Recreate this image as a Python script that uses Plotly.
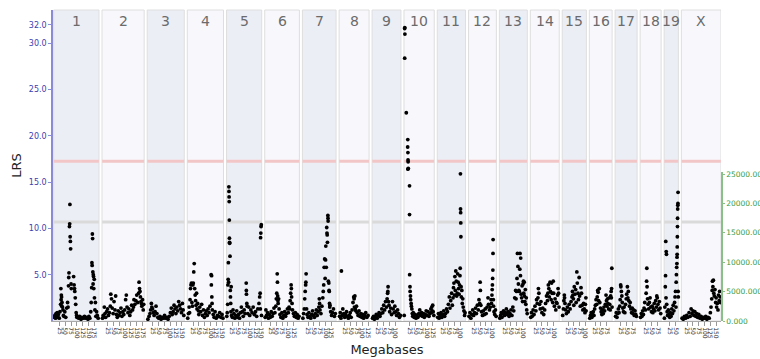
import plotly.graph_objects as go

# ---------------- data ----------------
CHROMS = ["1", "2", "3", "4", "5", "6", "7", "8", "9", "10",
          "11", "12", "13", "14", "15", "16", "17", "18", "19", "X"]
CHROM_LEN_MB = [195.5, 182.1, 160.0, 156.5, 151.8, 149.7, 145.4, 129.4, 124.6, 130.7,
                122.1, 120.1, 120.4, 124.9, 104.0, 98.2, 95.0, 90.7, 61.4, 171.0]

CHR1 = [(3,0.4),(5,0.6),(8,0.3),(10,0.8),(12,0.5),(15,0.9),(18,0.4),(20,0.7),(24,0.3),(27,1.0),
        (30,1.8),(31,3.5),(32,2.3),(33,2.8),(34,2.6),(35,1.6),(36,2.0),(38,1.5),(40,1.2),(42,0.6),(44,0.5),
        (48,1.0),(52,0.4),(56,1.4),(60,2.0),(62,1.5),(64,3.8),(65,4.7),(66,5.2),(68,10.2),(69,10.5),
        (70,12.6),(71,9.1),(72,8.6),(73,7.8),(75,4.0),(76,3.5),(86,4.8),(88,3.9),(90,3.5),(91,3.2),
        (93,2.5),(95,1.8),(97,0.9),(99,0.6),(100,0.4),(108,0.3),(112,0.5),(118,0.2),(122,0.4),
        (128,0.3),(133,0.5),(138,0.3),(143,0.4),(148,0.2),(152,0.5),(156,0.3),(160,1.0),(162,2.0),
        (164,3.6),(165,6.3),(166,6.0),(167,9.4),(168,8.9),(169,5.3),(170,4.0),(171,5.0),(172,4.8),
        (173,3.5),(175,4.5),(176,2.5),(178,1.2),(180,2.0),(182,0.5),(185,1.0),(188,0.6),(192,0.3)]
CHR2 = [(2,0.3),(5,0.6),(8,0.4),(10,1.5),(13,0.8),(16,0.4),(20,1.0),(24,1.3),(28,0.6),(32,0.9),
        (36,1.6),(38,2.9),(41,2.4),(44,1.4),(48,0.8),(52,2.1),(56,1.2),(59,2.7),(62,0.7),(66,0.4),
        (70,1.1),(74,0.6),(78,0.9),(82,1.4),(86,0.5),(90,1.0),(94,0.7),(98,1.2),(102,2.3),(105,2.8),
        (108,1.5),(112,0.9),(116,1.3),(120,0.6),(124,1.0),(128,1.7),(132,1.2),(136,1.5),(138,2.3),
        (142,1.8),(146,2.2),(150,2.8),(154,2.0),(158,3.0),(160,4.2),(162,3.5),(164,3.2),(166,2.6),
        (168,2.1),(170,1.9),(172,1.6),(175,2.3),(178,1.2),(180,1.8)]
CHR3 = [(3,0.2),(8,0.5),(12,0.8),(15,1.2),(18,1.9),(20,1.5),(23,1.3),(26,0.9),(30,0.6),(34,1.0),
        (38,1.6),(42,0.8),(46,0.4),(50,0.3),(55,0.5),(60,0.2),(65,0.4),(70,0.3),(75,0.6),(80,0.3),
        (85,0.4),(90,0.2),(95,0.5),(100,0.9),(104,1.4),(108,0.7),(112,1.0),(116,1.7),(120,1.3),
        (124,0.8),(128,1.5),(132,1.1),(136,2.1),(140,1.7),(144,1.3),(148,0.9),(152,1.9),(155,1.2),(158,0.6)]
CHR4 = [(2,0.3),(5,0.8),(8,1.5),(10,0.9),(12,2.3),(14,3.5),(16,3.9),(18,4.1),(20,2.0),(22,1.6),
        (24,3.9),(26,4.1),(28,5.3),(30,6.2),(32,3.5),(34,2.8),(36,2.2),(38,1.7),(40,3.0),(42,1.3),
        (45,1.9),(48,1.1),(50,0.7),(54,1.5),(58,1.0),(62,1.8),(66,0.6),(70,1.2),(74,0.4),(78,0.8),
        (82,1.1),(86,0.6),(90,1.3),(94,0.9),(98,1.6),(103,5.0),(104,3.9),(105,4.9),(106,2.6),(107,1.9),
        (108,1.2),(112,0.7),(116,0.4),(120,1.0),(125,0.3),(130,0.6),(135,0.5),(140,0.9),(145,0.4),
        (150,0.7),(154,0.3)]
CHR5 = [(1,0.5),(3,0.9),(5,1.8),(6,3.9),(7,4.5),(8,6.3),(9,4.2),(10,14.5),(10.5,14.0),(11,13.4),
        (11.5,12.9),(12,10.9),(12.5,8.95),(13,8.5),(13.5,8.4),(15,7.0),(16,3.3),(17,2.6),(18,1.9),
        (19,1.0),(20,3.7),(22,0.6),(25,0.4),(28,1.2),(32,0.8),(36,0.3),(40,0.6),(44,1.1),(48,0.4),
        (52,0.7),(56,0.3),(60,0.9),(64,1.5),(68,1.0),(72,0.5),(76,1.2),(80,0.8),(85,4.1),(85.5,3.3),
        (86,2.9),(87.5,1.9),(89,1.6),(92,0.8),(96,1.5),(100,0.6),(105,1.2),(110,0.9),(115,1.5),
        (120,0.7),(125,1.0),(130,0.5),(135,1.3),(140,1.9),(143,2.6),(145,3.0),(146,1.3),(147,9.0),
        (148,9.5),(149,10.2),(150,10.4),(151,0.6)]
CHR6 = [(2,0.4),(5,1.2),(8,0.6),(12,0.9),(16,0.3),(20,0.7),(24,0.4),(28,1.0),(32,0.5),(36,0.8),
        (40,1.4),(44,0.9),(48,1.6),(50,2.4),(52,3.0),(54,5.1),(55,4.2),(56,2.7),(57,2.2),(58,1.9),
        (60,2.4),(62,1.3),(66,0.7),(70,0.4),(74,0.9),(78,0.3),(82,0.6),(86,1.0),(90,0.5),(94,0.8),
        (98,1.3),(102,0.9),(105,1.5),(108,1.3),(110,2.2),(112,3.0),(114,3.9),(115,3.5),(116,2.6),
        (118,1.9),(120,1.2),(124,0.8),(128,0.5),(132,0.9),(136,0.4),(140,0.7),(144,0.3),(148,0.5)]
CHR7 = [(2,0.3),(5,0.8),(8,1.3),(10,2.4),(12,3.2),(14,3.9),(15,4.2),(16,5.1),(18,1.3),(20,0.7),
        (24,0.4),(28,0.9),(32,0.5),(36,0.3),(40,0.7),(44,1.1),(48,0.6),(52,0.4),(56,0.8),(60,1.2),
        (64,0.6),(68,1.0),(71,1.5),(73,2.4),(74,1.9),(76,1.2),(80,0.8),(84,1.6),(88,2.5),(90,3.2),
        (92,3.9),(94,5.8),(96,6.7),(98,4.6),(100,6.6),(101,8.1),(103,5.8),(105,10.1),(106,9.5),
        (107,9.3),(108,8.5),(110,11.4),(110.5,11.1),(111,10.8),(112,4.3),(114,4.1),(115,3.3),
        (116,3.2),(117,1.9),(118,1.5),(119,1.7),(122,1.0),(126,0.6),(130,0.9),(134,1.3),(138,0.5),(142,0.8)]
CHR8 = [(2,0.5),(5,0.9),(8,0.3),(10,5.4),(13,0.6),(16,1.3),(20,0.8),(24,0.4),(28,0.7),(32,1.0),
        (36,0.5),(40,0.3),(44,0.6),(48,0.9),(52,0.4),(56,1.2),(60,2.0),(63,2.6),(65,2.4),(66,1.5),
        (68,2.7),(70,1.3),(72,1.1),(75,1.6),(78,0.9),(82,0.6),(86,1.1),(90,0.5),(94,0.8),(98,0.4),
        (102,0.7),(106,0.3),(110,0.6),(115,0.9),(120,0.4),(125,0.6)]
CHR9 = [(2,0.3),(6,0.5),(10,0.2),(14,0.4),(18,0.7),(22,0.3),(26,0.6),(30,0.9),(34,0.5),(38,0.8),
        (42,1.3),(46,0.9),(50,1.7),(54,1.2),(58,2.1),(62,1.5),(65,2.4),(67,3.0),(68,3.2),(69,3.7),
        (71,2.1),(73,1.7),(76,1.0),(80,1.4),(84,0.7),(88,2.1),(91,1.3),(95,0.9),(98,1.6),(102,1.0),
        (106,0.6),(110,1.2),(114,0.8),(118,0.4),(122,0.6)]
CHR10 = [(1,0.6),(3,31.6),(3.5,31.7),(4,31.0),(3.2,28.4),(10,22.5),(16.5,19.6),(16,18.8),(17,18.2),
         (17.5,17.4),(18,17.2),(17,16.4),(18.5,16.5),(24,14.6),(24,11.5),(24.5,5.0),(26,3.7),(26.5,3.2),
         (28,2.7),(29,2.3),(31,1.9),(32,1.6),(34,1.3),(36,0.8),(38,0.5),(40,0.9),(44,0.4),(48,0.7),
         (52,0.3),(56,0.6),(60,0.4),(64,0.8),(68,1.2),(72,0.6),(76,0.9),(80,0.5),(84,0.8),(88,0.4),
         (92,0.7),(96,1.1),(100,0.6),(104,1.0),(108,0.5),(112,0.8),(116,1.3),(118,0.9),(120,1.5),
         (122,1.1),(124,1.7),(126,1.0),(129,0.6)]
CHR11 = [(2,0.4),(5,0.8),(8,0.3),(12,0.6),(16,0.9),(20,0.4),(24,0.7),(28,1.1),(32,0.5),(36,0.8),
         (40,1.3),(44,1.0),(48,1.8),(52,2.6),(55,1.4),(58,2.2),(62,3.0),(65,1.7),(68,2.5),(70,3.6),
         (72,4.1),(74,2.8),(76,4.8),(78,3.3),(80,5.4),(82,4.3),(84,2.7),(86,3.0),(88,5.1),(90,4.2),
         (92,3.5),(94,2.9),(96,3.9),(98,4.9),(99,5.7),(100,15.9),(100.5,12.1),(101,11.7),(101.5,10.6),
         (102,9.1),(103,3.7),(104,2.6),(106,3.3),(108,1.9),(110,2.4),(112,1.5),(115,1.1),(118,0.6),(120,0.9)]
CHR12 = [(2,0.5),(6,0.9),(10,0.3),(14,0.7),(18,1.2),(22,0.6),(26,0.9),(30,1.4),(34,0.8),(38,1.7),
         (42,1.2),(45,2.3),(48,1.9),(50,4.2),(51,3.3),(53,1.7),(56,1.0),(60,0.6),(64,1.1),(68,0.7),
         (72,1.3),(76,0.8),(80,1.5),(84,2.5),(86,1.8),(90,1.2),(94,1.5),(97,2.3),(99,1.9),(101,2.8),
         (102,3.4),(103,3.9),(104,4.6),(105,5.5),(105.5,7.3),(106,8.8),(107,2.3),(108,1.6),(110,1.0),
         (113,0.7),(116,1.2),(119,0.5)]
CHR13 = [(2,0.3),(5,0.6),(8,0.9),(11,0.4),(14,0.8),(18,1.1),(22,0.6),(26,0.9),(30,1.3),(34,0.7),
         (38,1.0),(42,0.5),(46,0.8),(50,1.2),(54,0.6),(58,1.5),(62,1.1),(66,2.5),(70,3.3),(72,2.4),
         (74,3.2),(76,4.6),(78,7.3),(80,5.9),(82,4.0),(84,3.3),(86,3.2),(88,5.6),(89,7.3),(91,4.9),
         (92,6.8),(94,2.9),(96,2.5),(98,3.8),(100,2.1),(102,4.0),(104,4.3),(105,3.0),(107,4.2),
         (108,2.7),(110,2.1),(112,3.4),(114,1.8),(116,2.5),(118,1.2),(120,0.8)]
CHR14 = [(2,0.4),(5,0.9),(8,0.5),(12,1.2),(16,0.7),(20,1.6),(24,1.1),(27,2.3),(30,1.9),(33,2.5),
         (35,3.5),(37,3.0),(40,1.8),(43,1.3),(46,2.1),(50,0.9),(54,1.4),(58,0.7),(62,1.2),(66,1.9),
         (70,2.7),(74,2.2),(76,3.0),(78,3.9),(80,3.5),(82,2.6),(85,4.2),(87,3.2),(90,2.3),(92,4.1),
         (94,3.0),(97,2.0),(99,4.3),(101,3.0),(104,1.6),(107,2.4),(110,1.2),(113,2.0),(115,1.9),
         (118,2.8),(120,3.5),(122,3.0),(124,1.5)]
CHR15 = [(2,0.6),(5,1.3),(7,2.2),(9,2.8),(10,2.5),(12,1.9),(15,1.2),(18,0.8),(22,1.5),(26,1.0),
         (30,1.8),(34,1.3),(38,2.1),(42,2.6),(44,3.2),(46,2.8),(48,2.4),(50,1.7),(52,3.7),(55,2.9),
         (58,3.4),(60,2.0),(63,5.3),(65,4.1),(68,3.0),(70,2.3),(73,4.7),(75,2.7),(78,1.6),(81,3.6),
         (83,3.0),(86,1.7),(89,1.2),(92,1.9),(95,1.3),(98,0.9),(100,1.8),(102,2.5),(103,1.1)]
CHR16 = [(2,0.3),(5,0.6),(8,0.9),(11,0.4),(14,0.7),(17,1.0),(20,0.6),(23,1.3),(26,1.7),(29,2.3),
         (32,1.8),(34,2.6),(36,3.3),(38,3.1),(40,2.2),(43,3.5),(45,2.0),(48,1.4),(51,1.0),(54,0.7),
         (57,1.2),(60,0.8),(63,1.5),(66,1.1),(69,1.8),(72,2.8),(74,2.2),(76,1.6),(78,2.4),(80,1.9),
         (83,1.3),(86,2.5),(88,1.8),(90,1.2),(92,2.7),(94,3.2),(95,2.5),(96,3.5),(97,5.7),(98,1.5)]
CHR17 = [(2,0.5),(5,0.9),(8,0.4),(11,0.8),(14,1.3),(17,0.9),(20,1.6),(22,2.3),(24,3.9),(25,3.7),
         (27,3.2),(29,2.7),(31,2.0),(33,1.4),(36,1.0),(39,1.5),(42,0.9),(45,1.8),(48,2.4),(50,2.9),
         (53,3.7),(55,2.5),(57,3.2),(59,2.2),(62,1.6),(65,2.0),(68,1.3),(71,0.9),(74,1.4),(77,0.8),
         (80,1.2),(83,0.6),(86,1.1),(89,0.7),(92,0.5)]
CHR18 = [(2,0.4),(5,0.8),(8,0.5),(11,1.1),(14,0.7),(17,1.4),(20,2.0),(23,1.2),(26,3.0),(28,4.3),
         (29,5.7),(30,3.7),(32,2.4),(34,1.8),(37,1.3),(40,2.0),(43,2.5),(46,1.5),(49,1.0),(52,1.6),
         (55,0.9),(58,1.3),(61,1.9),(64,1.1),(67,2.2),(70,1.5),(72,2.7),(74,2.5),(77,1.8),(80,1.2),
         (83,2.1),(86,1.4),(89,0.8)]
CHR19 = [(1,0.3),(3,1.5),(5,3.7),(6,4.9),(7,8.6),(8,2.5),(9,7.5),(10,7.2),(11,1.8),(13,1.0),
         (15,0.6),(18,1.2),(21,0.7),(24,0.4),(27,0.9),(30,0.5),(33,1.3),(36,0.8),(39,1.7),(42,1.1),
         (45,2.0),(47,2.6),(49,3.2),(51,1.5),(52,4.2),(53,5.0),(54,5.8),(55,6.2),(55.5,6.9),(56,7.2),
         (56.5,8.0),(57,9.1),(57.5,10.2),(58,11.1),(58.5,12.1),(59,12.5),(59.5,12.7),(60,13.9),
         (60.5,3.2),(61,2.6)]
CHRX = [(3,0.3),(8,0.2),(13,0.5),(18,0.3),(23,0.6),(28,0.4),(33,0.9),(38,0.5),(42,1.3),(46,0.8),
        (50,1.1),(54,0.6),(58,1.0),(62,0.5),(66,0.8),(70,0.4),(75,0.7),(80,0.3),(85,0.5),(90,0.2),
        (95,0.4),(100,0.3),(105,0.5),(110,0.2),(115,0.4),(120,0.3),(125,0.9),(128,1.5),(131,2.4),
        (133,3.3),(134,4.3),(136,3.7),(138,4.4),(140,3.0),(142,2.7),(145,3.4),(148,2.0),(150,2.5),
        (152,1.5),(155,1.9),(158,1.2),(160,2.8),(163,2.2),(165,3.2),(167,2.6),(169,2.0)]

CHROM_POINTS = [CHR1, CHR2, CHR3, CHR4, CHR5, CHR6, CHR7, CHR8, CHR9, CHR10,
                CHR11, CHR12, CHR13, CHR14, CHR15, CHR16, CHR17, CHR18, CHR19, CHRX]

SIGNIFICANT_LRS = 17.26
SUGGESTIVE_LRS = 10.69
Y_TICKS = [5, 10, 15, 20, 25, 30, 32]
Y2_TICKS = [0, 5000, 10000, 15000, 20000, 25000]
X_TICK_STEP_MB = 25

# ---------------- layout helpers ----------------
GAP_MB = 13.0
offsets = []
acc = 0.0
for L in CHROM_LEN_MB:
    offsets.append(acc)
    acc += L + GAP_MB
total = acc - GAP_MB

xs, ys = [], []
for off, pts in zip(offsets, CHROM_POINTS):
    for mb, lrs in pts:
        xs.append(off + mb)
        ys.append(lrs)

tickvals, ticktext = [], []
for off, L in zip(offsets, CHROM_LEN_MB):
    m = X_TICK_STEP_MB
    while m < L:
        tickvals.append(off + m)
        ticktext.append(str(m))
        m += X_TICK_STEP_MB

fig = go.Figure()
fig.add_trace(go.Scatter(x=[0], y=[0], yaxis="y2", mode="markers",
                         marker=dict(opacity=0), hoverinfo="skip", showlegend=False))
fig.add_trace(go.Scatter(x=xs, y=ys, mode="markers",
                         marker=dict(color="black", size=3.8, line=dict(width=0)),
                         hoverinfo="skip", showlegend=False))

shapes = []
annotations = []
for i, (name, off, L) in enumerate(zip(CHROMS, offsets, CHROM_LEN_MB)):
    fill = "#eceef6" if i % 2 == 0 else "#f8f8fc"
    shapes.append(dict(type="rect", xref="x", yref="paper", x0=off, x1=off + L, y0=0, y1=1,
                       fillcolor=fill, line=dict(color="#dedede", width=1), layer="below"))
    shapes.append(dict(type="line", xref="x", yref="y", x0=off + 0.5, x1=off + L - 0.5,
                       y0=SIGNIFICANT_LRS, y1=SIGNIFICANT_LRS,
                       line=dict(color="#f2c6c6", width=3), layer="below"))
    shapes.append(dict(type="line", xref="x", yref="y", x0=off + 0.5, x1=off + L - 0.5,
                       y0=SUGGESTIVE_LRS, y1=SUGGESTIVE_LRS,
                       line=dict(color="#dadada", width=3), layer="below"))
    annotations.append(dict(x=off + L / 2, y=0.966, xref="x", yref="paper", text=name,
                            showarrow=False, xanchor="center", yanchor="middle",
                            font=dict(size=14, color="#6b6b6b", family="DejaVu Sans")))

fig.update_layout(
    width=760, height=359,
    margin=dict(l=53, r=39, t=10, b=38, autoexpand=False),
    paper_bgcolor="white", plot_bgcolor="rgba(0,0,0,0)",
    font=dict(family="DejaVu Sans", color="#222"),
    shapes=shapes, annotations=annotations,
    xaxis=dict(range=[-3, total], tickvals=tickvals, ticktext=ticktext, tickangle=90,
               tickfont=dict(size=6, color="#222"), ticks="outside", ticklen=4,
               tickcolor="#999", showline=True, linecolor="#aaaaaa", linewidth=1,
               showgrid=False, zeroline=False, automargin=False,
               title=dict(text="Megabases", font=dict(size=13, color="#222"), standoff=7)),
    yaxis=dict(range=[0, 33.6], tickvals=Y_TICKS, ticktext=[f"{v:.1f}" for v in Y_TICKS],
               tickfont=dict(size=8, color="#4040b0"), ticks="outside", ticklen=3,
               tickcolor="#8a8ad6", showline=True, linecolor="#8a8ad6", linewidth=1.5,
               showgrid=False, zeroline=False, automargin=False,
               title=dict(text="LRS", font=dict(size=13, color="#222"), standoff=4)),
    yaxis2=dict(domain=[0, 0.48], anchor="x", side="right", range=[0, 25400],
                tickvals=Y2_TICKS, tickformat=".3f",
                tickfont=dict(size=7.5, color="#3a9a3a"), ticks="outside", ticklen=2,
                tickcolor="#88c088", showline=True, linecolor="#88c088", linewidth=1.5,
                showgrid=False, zeroline=False, automargin=False),
)

fig.write_html("out.html", config={"displayModeBar": False},
               post_script="document.body.style.margin='0';document.body.style.overflow='hidden';")
